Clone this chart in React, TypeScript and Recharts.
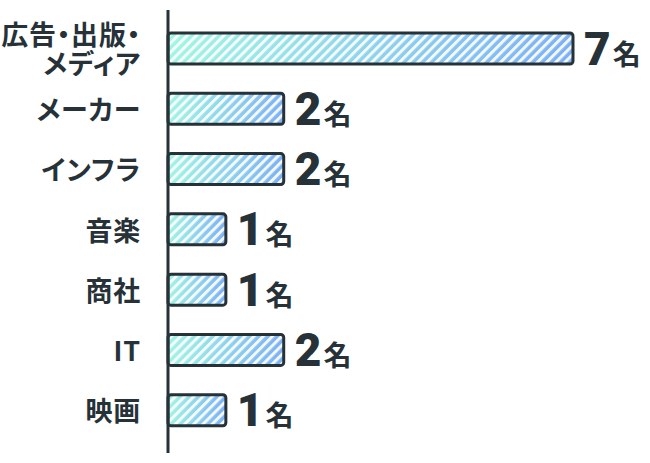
import { BarChart, Bar, XAxis, YAxis, LabelList } from "recharts";

const CATEGORIES = ["広告・出版・\nメディア", "メーカー", "インフラ", "音楽", "商社", "IT", "映画"];
const COUNTS = [7, 2, 2, 1, 1, 2, 1];
const UNIT = "名";

const INK = "#263238";
const JP_FONT = '"Noto Sans CJK JP", sans-serif';

const data = CATEGORIES.map((name, i) => ({ name, value: COUNTS[i] }));

// 斜線＋グラデーションのバー
function StripedBar(props: any) {
  const { x, y, width, height } = props;
  if (!width || width <= 0) return null;
  return (
    <g>
      <rect x={x} y={y} width={width} height={height} rx={3} fill="url(#barGrad)" />
      <rect x={x} y={y} width={width} height={height} rx={3} fill="url(#barStripes)" />
      <rect
        x={x}
        y={y}
        width={width}
        height={height}
        rx={3}
        fill="none"
        stroke={INK}
        strokeWidth={3}
      />
    </g>
  );
}

function CategoryTick(props: any) {
  const { x, y, payload } = props;
  const lines = String(payload.value).split("\n");
  const lineH = 29;
  const startY = y - ((lines.length - 1) * lineH) / 2;
  return (
    <text
      textAnchor="end"
      fill={INK}
      fontFamily={JP_FONT}
      fontWeight={700}
      fontSize={27}
      letterSpacing={0.8}
      style={{ fontFeatureSettings: '"palt"' }}
    >
      {lines.map((line, i) => (
        <tspan key={i} x={x} y={startY + i * lineH} dominantBaseline="central">
          {line}
        </tspan>
      ))}
    </text>
  );
}

function CountLabel(props: any) {
  const { x, y, width, height, value } = props;
  return (
    <text x={x + width + 11} y={y + height / 2 + 16} fill={INK} fontWeight={900}>
      <tspan fontFamily="Roboto, sans-serif" fontSize={46}>
        {value}
      </tspan>
      <tspan dx={2} fontFamily={JP_FONT} fontSize={28} fontWeight={700}>
        {UNIT}
      </tspan>
    </text>
  );
}

export default function App() {
  return (
    <div style={{ position: "absolute", left: 0, top: 0, width: 650, height: 463, background: "#fff" }}>
      <svg width={0} height={0} style={{ position: "absolute" }}>
        <defs>
          <linearGradient id="barGrad" x1="0" y1="0" x2="1" y2="0">
            <stop offset="0%" stopColor="#a2f5e4" />
            <stop offset="100%" stopColor="#7cb0f4" />
          </linearGradient>
          <pattern
            id="barStripes"
            patternUnits="userSpaceOnUse"
            width={6.5}
            height={6.5}
            patternTransform="rotate(45)"
          >
            <rect x={0} y={0} width={3} height={6.5} fill="#ffffff" fillOpacity={0.9} />
          </pattern>
        </defs>
      </svg>
      <BarChart
        width={650}
        height={463}
        data={data}
        layout="vertical"
        margin={{ top: 10, right: 77, bottom: 10, left: 0 }}
        barSize={31}
      >
        <XAxis type="number" domain={[0, 7]} hide />
        <YAxis
          type="category"
          dataKey="name"
          width={168}
          padding={{ top: 8, bottom: 13 }}
          axisLine={{ stroke: INK, strokeWidth: 3 }}
          tickLine={false}
          tickSize={0}
          tickMargin={27}
          tick={<CategoryTick />}
          interval={0}
        />
        <Bar dataKey="value" shape={<StripedBar />} isAnimationActive={false}>
          <LabelList dataKey="value" content={<CountLabel />} />
        </Bar>
      </BarChart>
    </div>
  );
}
